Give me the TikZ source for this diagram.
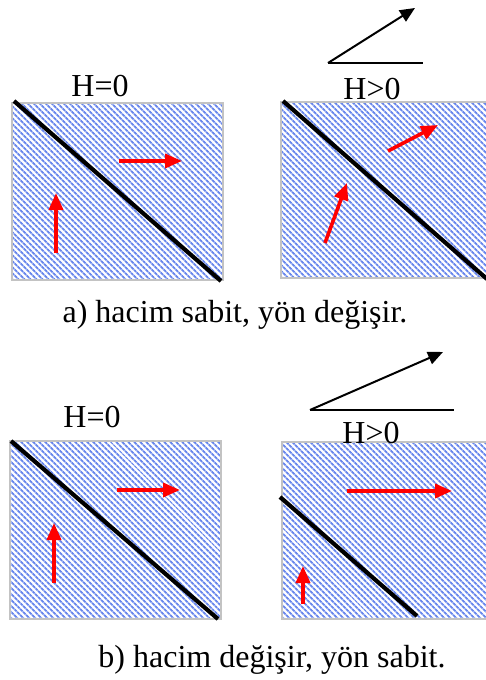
\documentclass[tikz,border=0pt]{standalone}
\usepackage{fontspec}
\setmainfont{Liberation Serif}
\usetikzlibrary{arrows.meta,patterns.meta}
\definecolor{hatchblue}{RGB}{105,135,236}
\definecolor{framegray}{RGB}{195,195,195}

\begin{document}
\begin{tikzpicture}[
  x=1pt, y=-1pt,
  panel/.style={draw=framegray, line width=1.5pt, pattern={Lines[angle=-45, distance=4pt, line width=2pt]}, pattern color=hatchblue},
  bound/.style={line width=4.2pt, black},
  flow/.style={-{Triangle[length=17pt, width=14pt]}, line width=3.6pt, red},
  slope/.style={-{Triangle[length=15pt, width=13pt]}, line width=2pt, black},
  lbl/.style={font=\fontsize{32}{36}\selectfont, inner sep=0pt, anchor=base}
]
\useasboundingbox (0,0) rectangle (485,680);

% a) hacim sabit
\path[panel] (12,103) rectangle (223,280);
\draw[bound] (14,101) -- (221,281);
\draw[flow] (56,253) -- (56,193);
\draw[flow] (119,161) -- (182,161);
\node[lbl] (h0a) at (100,96) {H=0};

\path[panel] (281,102) rectangle (490,278);
\draw[bound] (283,101) -- (487,279);
\draw[flow] (325,243) -- (347,183);
\draw[flow] (388,151) -- (438,125);
\draw[slope] (328,63) -- (415,8);
\draw[line width=2pt] (328,63) -- (423,63);
\node[lbl] (hpa) at (372,99) {H>0};

\node[lbl] (capa) at (235,322) {a) hacim sabit, yön değişir.};

% b) hacim degisir
\path[panel] (10,441) rectangle (221,619);
\draw[bound] (11,441) -- (218,619);
\draw[flow] (54,583) -- (54,523);
\draw[flow] (117,490) -- (180,490);
\node[lbl] (h0b) at (92,427) {H=0};

\path[panel] (282,442) rectangle (490,619);
\draw[bound] (280,497) -- (417,616);
\draw[flow] (303,604) -- (303,566);
\draw[flow] (347,491) -- (452,491);
\draw[slope] (310,410) -- (443,352);
\draw[line width=2pt] (310,410) -- (454,410);
\node[lbl] (hpb) at (371,443) {H>0};

\node[lbl] (capb) at (272,667) {b) hacim değişir, yön sabit.};
\end{tikzpicture}
\end{document}
